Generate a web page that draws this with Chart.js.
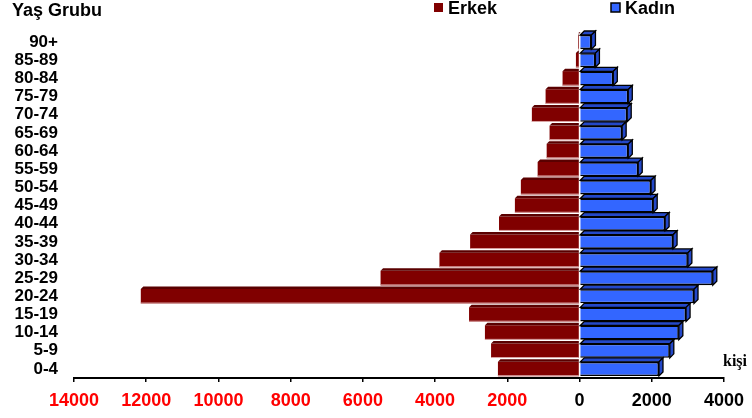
<!DOCTYPE html>
<html>
<head>
    <title>Yaş Grubu</title>
    <meta charset="utf-8" />
    <script src="https://cdn.jsdelivr.net/npm/chart.js@4.4.1/dist/chart.umd.min.js"></script>
    <style>
        body { margin: 0; background: #fff; }
        .chart-container { width: 752px; height: 418px; position: relative; }
    </style>
</head>
<body>
    <div class="chart-container"><canvas id="chart"></canvas></div>

    <script>
        const ageGroups = ['0-4', '5-9', '10-14', '15-19', '20-24', '25-29', '30-34', '35-39', '40-44',
                           '45-49', '50-54', '55-59', '60-64', '65-69', '70-74', '75-79', '80-84', '85-89', '90+'];
        const erkek = [2260, 2450, 2620, 3060, 12150, 5510, 3880, 3030, 2230,
                       1790, 1625, 1160, 910, 830, 1320, 940, 470, 100, 40];
        const kadin = [2200, 2500, 2750, 2950, 3170, 3690, 3000, 2590, 2370,
                       2040, 1980, 1625, 1350, 1180, 1320, 1350, 935, 440, 330];
        const xTicks = [-14000, -12000, -10000, -8000, -6000, -4000, -2000, 0, 2000, 4000];

        const labelFont = { family: 'Liberation Sans, Arial, sans-serif', size: 17, weight: 'bold' };
        const tickFont = { family: 'Liberation Sans, Arial, sans-serif', size: 18, weight: 'bold' };

        // 3D faces on top of the bars + title, legend and unit text
        const extras = {
            id: 'extras',
            afterDatasetsDraw(chart) {
                const ctx = chart.ctx;
                ctx.save();
                // male bars: dark top strip, light bottom edge
                chart.getDatasetMeta(0).data.forEach(el => {
                    const top = el.y - el.height / 2, bottom = el.y + el.height / 2;
                    const l = Math.min(el.x, el.base), r = Math.max(el.x, el.base);
                    ctx.fillStyle = '#5a0000';
                    ctx.beginPath();
                    ctx.moveTo(l, top);
                    ctx.lineTo(l + 2.5, top - 2.5);
                    ctx.lineTo(r, top - 2.5);
                    ctx.lineTo(r, top);
                    ctx.closePath();
                    ctx.fill();
                    ctx.fillStyle = '#dca8a8';
                    ctx.fillRect(l, bottom - 1, r - l, 1);
                });
                // female bars: top and side faces
                const d = 4;
                chart.getDatasetMeta(1).data.forEach(el => {
                    const top = el.y - el.height / 2, bottom = el.y + el.height / 2;
                    const l = el.base, r = el.x;
                    ctx.lineWidth = 1.3;
                    ctx.strokeStyle = '#000';
                    ctx.fillStyle = '#2448c8';
                    ctx.beginPath();
                    ctx.moveTo(l, top);
                    ctx.lineTo(l + d, top - d);
                    ctx.lineTo(r + d, top - d);
                    ctx.lineTo(r, top);
                    ctx.closePath();
                    ctx.fill();
                    ctx.stroke();
                    ctx.beginPath();
                    ctx.moveTo(r, top);
                    ctx.lineTo(r + d, top - d);
                    ctx.lineTo(r + d, bottom - d);
                    ctx.lineTo(r, bottom);
                    ctx.closePath();
                    ctx.fill();
                    ctx.stroke();
                });

                ctx.fillStyle = '#000';
                ctx.textBaseline = 'alphabetic';
                ctx.textAlign = 'left';
                ctx.font = 'bold 18px "Liberation Sans", Arial, sans-serif';
                ctx.fillText('Yaş Grubu', 12, 16);

                // legend
                const ds = chart.data.datasets;
                ctx.fillStyle = ds[0].backgroundColor;
                ctx.fillRect(434, 3, 9, 9);
                ctx.fillStyle = '#000';
                ctx.fillText(ds[0].label, 448, 14);
                ctx.fillStyle = ds[1].backgroundColor;
                ctx.fillRect(611, 3, 9, 9);
                ctx.lineWidth = 1.5;
                ctx.strokeRect(611, 3, 9, 9);
                ctx.fillStyle = '#000';
                ctx.fillText(ds[1].label, 625, 14);

                ctx.font = 'bold 16px "Liberation Serif", "Times New Roman", serif';
                ctx.fillText('kişi', 723, 366);
                ctx.restore();
            }
        };

        new Chart(document.getElementById('chart'), {
            type: 'bar',
            data: {
                labels: ageGroups,
                datasets: [{
                    label: 'Erkek',
                    data: erkek.map(v => -v),
                    backgroundColor: '#800000',
                    borderWidth: 0,
                    barPercentage: 0.8,
                    categoryPercentage: 1
                }, {
                    label: 'Kadın',
                    data: kadin,
                    backgroundColor: '#3366ff',
                    borderColor: '#000',
                    borderWidth: 1.6,
                    barPercentage: 0.78,
                    categoryPercentage: 1
                }]
            },
            options: {
                indexAxis: 'y',
                responsive: true,
                maintainAspectRatio: false,
                animation: false,
                layout: { padding: { top: 33, right: 26, left: 0, bottom: 0 } },
                plugins: {
                    legend: { display: false },
                    tooltip: { enabled: false }
                },
                scales: {
                    x: {
                        stacked: true,
                        min: -14000,
                        max: 4000,
                        afterBuildTicks: scale => { scale.ticks = xTicks.map(v => ({ value: v })); },
                        afterFit: scale => { scale.height = 40; },
                        grid: { display: true, drawOnChartArea: false, drawTicks: true, tickLength: 4, color: '#000', lineWidth: 1.5 },
                        border: { display: true, color: '#000', width: 2 },
                        ticks: {
                            padding: 8,
                            maxRotation: 0,
                            font: tickFont,
                            color: c => (c.tick && c.tick.value < 0) ? '#ff0000' : '#000',
                            callback: v => String(Math.abs(v))
                        }
                    },
                    y: {
                        stacked: true,
                        reverse: true,
                        afterFit: scale => { scale.width = 74; },
                        grid: { display: false, drawTicks: false },
                        border: { display: false },
                        ticks: { padding: 16, font: labelFont, color: '#000', autoSkip: false }
                    }
                }
            },
            plugins: [extras]
        });
    </script>
</body>
</html>
